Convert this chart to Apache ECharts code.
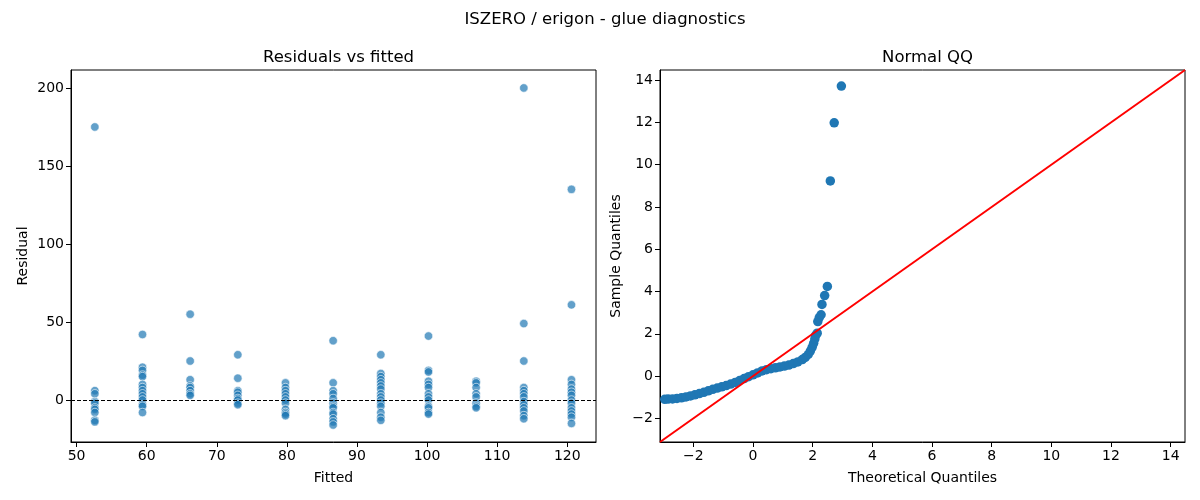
<!DOCTYPE html>
<html>
<head>
<meta charset="utf-8">
<title>ISZERO / erigon - glue diagnostics</title>
<script src="https://cdn.jsdelivr.net/npm/echarts@6/dist/echarts.min.js"></script>
<style>
    html, body { margin: 0; padding: 0; background: #fff; }
    #chart { width: 1200px; height: 500px; }
</style>
</head>
<body>
<div id="chart"></div>
<script>
// fitted levels (one per group) and the residuals
var fittedLevels = [52.6, 59.4, 66.2, 73.0, 79.8, 86.6, 93.4, 100.2, 107.0, 113.8, 120.6];
var residualGroups = [
    [175, 6, 4, -1, -2, -5, -6, -8, -13, -14],
    [42, 21, 19, 16, 15, 10, 8, 6, 4, 2, 0, -3, -4, -8],
    [55, 25, 13, 9, 8, 6, 4, 3],
    [29, 14, 6, 5, 3, 1, 0, -2, -3],
    [11, 8, 6, 4, 2, 0, -2, -6, -8, -9, -10],
    [38, 11, 6, 4, 1, -2, -4, -5, -8, -9, -12, -14, -16],
    [29, 17, 15, 13, 11, 9, 7, 4, 2, 0, -2, -4, -8, -11, -13],
    [41, 19, 18, 12, 10, 8, 4, 2, 0, -4, -5, -8, -9],
    [12, 11, 8, 4, 2, -2, -4, -5],
    [200, 49, 25, 8, 6, 4, 2, -1, -3, -5, -7, -10, -12],
    [135, 61, 13, 10, 7, 5, 3, 0, -2, -5, -7, -9, -11, -15]
];

// normal QQ: theoretical vs sample quantiles
var qqTheoretical = [-2.96, -2.85, -2.7, -2.55, -2.4, -2.25, -2.1, -1.95, -1.8, -1.65,
    -1.5, -1.35, -1.2, -1.05, -0.9, -0.75, -0.6, -0.45, -0.3, -0.15,
    0.0, 0.15, 0.3, 0.45, 0.6, 0.75, 0.9, 1.05, 1.2, 1.35,
    1.5, 1.65, 1.75, 1.85, 1.92, 1.98, 2.03, 2.07, 2.1, 2.15,
    2.17, 2.22, 2.28, 2.31, 2.4, 2.49, 2.59, 2.72, 2.96];
var qqSample = [-1.10, -1.09, -1.08, -1.06, -1.03, -0.99, -0.94, -0.89, -0.83, -0.77,
    -0.70, -0.63, -0.57, -0.51, -0.45, -0.38, -0.30, -0.21, -0.12, -0.03,
    0.06, 0.15, 0.24, 0.30, 0.35, 0.39, 0.43, 0.47, 0.52, 0.59,
    0.67, 0.78, 0.88, 1.02, 1.18, 1.36, 1.55, 1.75, 1.92, 2.03,
    2.58, 2.77, 2.90, 3.39, 3.81, 4.24, 9.23, 11.98, 13.72];
var qqLimits = [-3.12, 14.48];

var residPoints = [];
for (var g = 0; g < fittedLevels.length; g++) {
    for (var i = 0; i < residualGroups[g].length; i++) {
        residPoints.push([fittedLevels[g], residualGroups[g][i]]);
    }
}
var qqPoints = [];
for (var j = 0; j < qqTheoretical.length; j++) {
    qqPoints.push([qqTheoretical[j], qqSample[j]]);
}

var FONT = 'DejaVu Sans';
var txt = {color: '#000', fontFamily: FONT, fontSize: 14};

// only label the round ticks, hide the edge ones echarts adds at min/max
function tickLabel(step) {
    return function (v) {
        var r = Math.round(v / step) * step;
        return Math.abs(v - r) < 1e-6 ? String(r).replace('-', '\u2212') : '';
    };
}

function valueAxis(gridIndex, min, max, step, name, nameGap) {
    return {
        type: 'value',
        gridIndex: gridIndex,
        min: min,
        max: max,
        splitNumber: Math.round((max - min) / step),
        minInterval: step,
        maxInterval: step,
        name: name,
        nameLocation: 'middle',
        nameGap: nameGap,
        nameTextStyle: txt,
        axisLine: {show: true, onZero: false, lineStyle: {color: '#000', width: 1}},
        axisTick: {show: true, length: 5, lineStyle: {color: '#000'}},
        axisLabel: {show: true, margin: 7, color: '#000', fontFamily: FONT, fontSize: 14,
            showMinLabel: false, showMaxLabel: false, formatter: tickLabel(step)},
        splitLine: {show: false}
    };
}

var myChart = echarts.init(document.getElementById('chart'));
myChart.setOption({
    backgroundColor: '#fff',
    animation: false,
    title: [
        {text: 'ISZERO / erigon - glue diagnostics', left: 600, top: 6, textAlign: 'center',
            textStyle: {color: '#000', fontFamily: FONT, fontSize: 16.5, fontWeight: 'normal'}},
        {text: 'Residuals vs fitted', left: 333.5, top: 44, textAlign: 'center',
            textStyle: {color: '#000', fontFamily: FONT, fontSize: 16.5, fontWeight: 'normal'}},
        {text: 'Normal QQ', left: 922.5, top: 44, textAlign: 'center',
            textStyle: {color: '#000', fontFamily: FONT, fontSize: 16.5, fontWeight: 'normal'}}
    ],
    grid: [
        {left: 71, right: 604, top: 70, bottom: 58, show: true, borderColor: '#000', borderWidth: 1},
        {left: 660, right: 15, top: 70, bottom: 58, show: true, borderColor: '#000', borderWidth: 1}
    ],
    xAxis: [
        valueAxis(0, 49.2, 124.1, 10, 'Fitted', 29),
        valueAxis(1, qqLimits[0], qqLimits[1], 2, 'Theoretical Quantiles', 29)
    ],
    yAxis: [
        valueAxis(0, -26.9, 211.5, 50, 'Residual', 41),
        valueAxis(1, qqLimits[0], qqLimits[1], 2, 'Sample Quantiles', 37)
    ],
    series: [
        {
            type: 'scatter',
            xAxisIndex: 0,
            yAxisIndex: 0,
            data: residPoints,
            symbolSize: 8.5,
            itemStyle: {color: 'rgba(31,119,180,0.7)', opacity: 1, borderColor: '#fff', borderWidth: 0.6},
            markLine: {
                silent: true,
                symbol: 'none',
                label: {show: false},
                lineStyle: {color: '#000', type: [4, 2], width: 1},
                data: [{yAxis: 0}]
            }
        },
        {
            type: 'scatter',
            xAxisIndex: 1,
            yAxisIndex: 1,
            data: qqPoints,
            symbolSize: 9.5,
            itemStyle: {color: '#1f77b4', opacity: 1},
            z: 2
        },
        {
            //45 degree reference line
            type: 'line',
            xAxisIndex: 1,
            yAxisIndex: 1,
            data: [[qqLimits[0], qqLimits[0]], [qqLimits[1], qqLimits[1]]],
            symbol: 'none',
            lineStyle: {color: '#ff0000', width: 2},
            z: 3
        }
    ]
});
</script>
</body>
</html>
